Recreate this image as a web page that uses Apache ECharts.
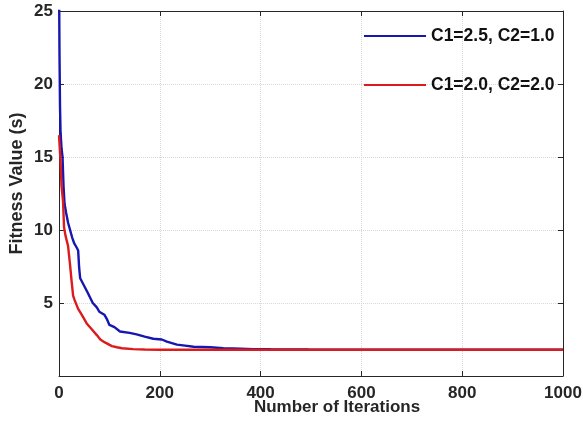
<!DOCTYPE html>
<html>
<head>
<meta charset="utf-8">
<script src="https://cdn.jsdelivr.net/npm/echarts@6/dist/echarts.min.js"></script>
<style>
  html, body { margin: 0; padding: 0; background: #ffffff; }
  #chart { width: 583px; height: 422px; }
</style>
</head>
<body>
<div id="chart"></div>
<script>
// Convergence of the best fitness value for two PSO coefficient settings
const seriesNames = ['C1=2.5, C2=1.0', 'C1=2.0, C2=2.0'];

const blueIter = [0, 1, 2, 3, 5, 7, 9, 11, 14, 18, 22, 26, 30, 35, 38, 40, 42, 48, 57, 67, 75, 80, 90, 95, 100, 110, 121, 140, 154, 170, 187, 204, 214, 234, 250, 267, 300, 326, 360, 386, 420, 495, 1000];
const blueFit  = [27.5, 22.0, 18.5, 16.8, 15.6, 15.0, 13.0, 11.8, 11.2, 10.5, 10.0, 9.5, 9.1, 8.8, 8.6, 7.4, 6.7, 6.3, 5.7, 5.0, 4.7, 4.4, 4.2, 3.9, 3.5, 3.35, 3.05, 2.95, 2.85, 2.7, 2.55, 2.5, 2.35, 2.15, 2.08, 2.0, 1.97, 1.9, 1.87, 1.84, 1.83, 1.82, 1.80];

const redIter = [0, 2, 3, 5, 8, 10, 13, 18, 22, 25, 28, 31, 38, 45, 55, 65, 75, 82, 91, 105, 115, 125, 147, 170, 200, 1000];
const redFit  = [16.5, 15.3, 14.8, 13.0, 12.0, 10.2, 9.6, 8.9, 7.6, 6.5, 5.5, 5.2, 4.6, 4.2, 3.6, 3.2, 2.8, 2.5, 2.3, 2.05, 1.97, 1.9, 1.84, 1.82, 1.80, 1.80];

const xTicks = { min: 0, max: 1000, interval: 200 };
const yTicks = { min: 0, max: 25, interval: 5 };

const pairs = (xs, ys) => xs.map((x, i) => [x, ys[i]]);

const font = '"Liberation Sans", Arial, Helvetica, sans-serif';
const ink = '#262626';

const frameAxis = {
  axisLine: { show: true, onZero: false, lineStyle: { color: ink, width: 1 } },
  axisTick: { show: true, inside: true, length: 5, lineStyle: { color: ink, width: 1 } }
};

const chart = echarts.init(document.getElementById('chart'), null, { renderer: 'canvas' });

chart.setOption({
  animation: false,
  backgroundColor: '#ffffff',
  grid: { left: 59, right: 20, top: 11, bottom: 46, containLabel: false, outerBoundsMode: 'none' },
  legend: {
    show: true,
    orient: 'vertical',
    left: 358,
    top: 22,
    itemWidth: 62,
    itemHeight: 16,
    itemGap: 31,
    itemStyle: { opacity: 0 },
    textStyle: { fontFamily: font, fontWeight: 'bold', fontSize: 17.5, color: '#111111' },
    data: seriesNames
  },
  xAxis: [
    Object.assign({
      type: 'value',
      position: 'bottom',
      min: xTicks.min, max: xTicks.max, interval: xTicks.interval,
      name: 'Number of Iterations',
      nameLocation: 'middle',
      nameGap: 23,
      nameMoveOverlap: false,
      nameTextStyle: { fontFamily: font, fontWeight: 'bold', fontSize: 17, color: ink, padding: [0, 0, 0, 52] },
      axisLabel: { margin: 9, fontFamily: font, fontWeight: 'bold', fontSize: 17, color: ink, formatter: v => String(v) },
      splitLine: { show: true, lineStyle: { color: '#d9d9d9', type: 'dotted', width: 1 } }
    }, frameAxis),
    Object.assign({
      type: 'value',
      position: 'top',
      min: xTicks.min, max: xTicks.max, interval: xTicks.interval,
      axisLabel: { show: false },
      splitLine: { show: false }
    }, frameAxis)
  ],
  yAxis: [
    Object.assign({
      type: 'value',
      position: 'left',
      min: yTicks.min, max: yTicks.max, interval: yTicks.interval,
      name: 'Fitness Value (s)',
      nameLocation: 'middle',
      nameGap: 33,
      nameMoveOverlap: false,
      nameTextStyle: { fontFamily: font, fontWeight: 'bold', fontSize: 18, color: ink, padding: [0, 0, 0, 20] },
      axisLabel: {
        margin: 6, fontFamily: font, fontWeight: 'bold', fontSize: 17, color: ink,
        formatter: v => (v === 0 ? '' : String(v))
      },
      splitLine: { show: true, lineStyle: { color: '#d9d9d9', type: 'dotted', width: 1 } }
    }, frameAxis),
    Object.assign({
      type: 'value',
      position: 'right',
      min: yTicks.min, max: yTicks.max, interval: yTicks.interval,
      axisLabel: { show: false },
      splitLine: { show: false }
    }, frameAxis)
  ],
  series: [
    {
      name: seriesNames[0],
      type: 'line',
      data: pairs(blueIter, blueFit),
      showSymbol: false,
      symbol: 'none',
      clip: true,
      itemStyle: { color: '#1616b0' },
      lineStyle: { width: 2.4, color: '#1616b0' },
      z: 3
    },
    {
      name: seriesNames[1],
      type: 'line',
      data: pairs(redIter, redFit),
      showSymbol: false,
      symbol: 'none',
      clip: true,
      itemStyle: { color: '#dc1c1c' },
      lineStyle: { width: 2.4, color: '#dc1c1c' },
      z: 4
    }
  ]
});
</script>
</body>
</html>
